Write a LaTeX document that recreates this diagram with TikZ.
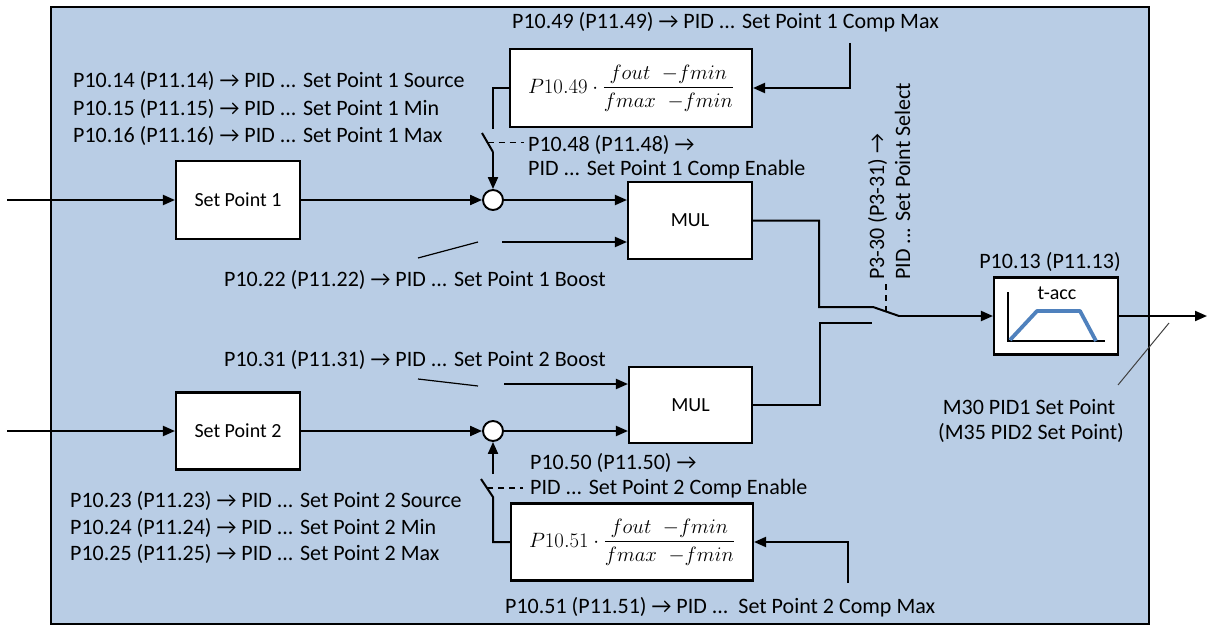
\documentclass[tikz,border=0pt]{standalone}
\usepackage{amsmath}
\usepackage{fontspec}
\setmainfont{Carlito}
\usetikzlibrary{arrows.meta,calc}
\definecolor{bgblue}{HTML}{B9CDE5}
\definecolor{rampblue}{HTML}{4F81BD}
\definecolor{ptr}{HTML}{404040}
\newcommand\ra{→}
\newcommand\lblfont{\fontsize{22}{27}\selectfont}
\newcommand\boxfont{\fontsize{20}{24}\selectfont}
\begin{document}
\begin{tikzpicture}[x=1pt,y=-1pt,
 lbl/.style={anchor=base west,inner sep=0pt,font=\lblfont},
 blk/.style={draw,line width=2.1pt,fill=white,inner sep=0pt,font=\boxfont},
 sum/.style={draw,circle,line width=1.9pt,fill=white,minimum size=20pt,inner sep=0pt},
 wire/.style={line width=2pt},
 arr/.style={wire,-{Triangle[length=12pt,width=10pt]}},
 blade/.style={line width=1.2pt},
 ctl/.style={line width=1.8pt,dash pattern=on 6pt off 5pt},
]
\useasboundingbox (0,0) rectangle (1208,626);
\draw[line width=2.4pt,fill=bgblue] (51,7) rectangle (1149,624);

% blocks
\node[blk,minimum width=124pt,minimum height=78pt] (sp1) at (238,200) {Set Point 1};
\node[blk,minimum width=124pt,minimum height=77pt] (sp2) at (238,431) {Set Point 2};
\node[blk,minimum width=124pt,minimum height=77pt] (mul1) at (690,220.5) {MUL};
\node[blk,minimum width=123pt,minimum height=76pt] (mul2) at (690.5,405) {MUL};
\node[blk,minimum width=242pt,minimum height=78pt] (comp1) at (631,88) {$P10.49\cdot\dfrac{fout\;\;{-}fmin}{fmax\;\;{-}fmin}$};
\node[blk,minimum width=242pt,minimum height=77pt] (comp2) at (632,542) {$P10.51\cdot\dfrac{fout\;\;{-}fmin}{fmax\;\;{-}fmin}$};
\node[blk,minimum width=124pt,minimum height=77pt] (tacc) at (1056,316) {};
\node[font=\boxfont,inner sep=0pt] (tacctxt) at (1057,293) {t-acc};
\draw[line width=1.4pt] (1008,292) -- (1008,341) -- (1105,341);
\draw[rampblue,line width=3.8pt,line join=round] (1010,340) -- (1037,311) -- (1080,311) -- (1096,341);
\node[sum] (c1) at (493,200) {};
\node[sum] (c2) at (493,431) {};

% coordinates
\coordinate (in1) at (7,200);
\coordinate (in2) at (7,431);
\coordinate (b1a) at (418,258);
\coordinate (b1b) at (478,242);
\coordinate (b1c) at (502,242);
\coordinate (b2a) at (418,379);
\coordinate (b2b) at (478,386);
\coordinate (b2c) at (504,384);
\coordinate (s1top) at (493,129);
\coordinate (s1free) at (482,133);
\coordinate (s1hinge) at (493,152);
\coordinate (s2hinge) at (493,497);
\coordinate (s2free) at (481,479);
\coordinate (s2arr) at (493,474);
\coordinate (cm1) at (850,43);
\coordinate (cm2) at (848,583);
\coordinate (selTop) at (873,307);
\coordinate (selPiv) at (899,316);
\coordinate (selBot) at (872,323);
\coordinate (selCorner) at (820,323);
\coordinate (out) at (1207,316);

% connectors
\draw[arr] (in1) -- (sp1.west);
\draw[arr] (in2) -- (sp2.west);
\draw[arr] (sp1.east) -- (c1.west);
\draw[arr] (sp2.east) -- (c2.west);
\draw[arr] (c1.east) -- (c1.east -| mul1.west);
\draw[arr] (c2.east) -- (c2.east -| mul2.west);
\draw[blade] (b1a) -- (b1b);
\draw[arr] (b1c) -- (b1c -| mul1.west);
\draw[blade] (b2a) -- (b2b);
\draw[arr] (b2c) -- (b2c -| mul2.west);
\draw[wire] (comp1.west) -| (s1top);
\draw[wire] (s1free) -- (s1hinge);
\draw[arr] (s1hinge) -- (c1.north);
\draw[ctl] ($(s1free)!0.5!(s1hinge)$) -- ++(36,0);
\draw[wire] (comp2.west) -| (s2hinge) -- (s2free);
\draw[arr] (s2arr) -- (c2.south);
\draw[ctl] ($(s2free)!0.5!(s2hinge)$) -- ++(36,0);
\draw[arr] (cm1) |- (comp1.east);
\draw[arr] (cm2) |- (comp2.east);
\draw[wire] (mul1.east) -- ++(66,0) |- (selTop) -- (selPiv);
\draw[arr] (selPiv) -- (tacc.west);
\draw[wire] (mul2.east) -| (selCorner) -- (selBot);
\draw[ctl] ($(selTop)!0.5!(selPiv)$) -- ++(0,-32);
\draw[arr] (tacc.east) -- (out);
\draw[ptr,line width=1pt] (1118,385) -- (1169,323);

% labels
\node[lbl] (l1) at (512,29) {P10.49 (P11.49) \ra{} PID ... Set Point 1 Comp Max};
\node[lbl] (l2) at (73,88) {P10.14 (P11.14) \ra{} PID ... Set Point 1 Source};
\node[lbl] (l3) at (73,115) {P10.15 (P11.15) \ra{} PID ... Set Point 1 Min};
\node[lbl] (l4) at (73,142) {P10.16 (P11.16) \ra{} PID ... Set Point 1 Max};
\node[lbl] (l5) at (528,151) {P10.48 (P11.48) \ra};
\node[lbl] (l6) at (528,175) {PID ... Set Point 1 Comp Enable};
\node[lbl] (l7) at (224,286) {P10.22 (P11.22) \ra{} PID ... Set Point 1 Boost};
\node[lbl] (l8) at (224,366) {P10.31 (P11.31) \ra{} PID ... Set Point 2 Boost};
\node[lbl] (l9) at (530,469) {P10.50 (P11.50) \ra};
\node[lbl] (l10) at (530,494) {PID ... Set Point 2 Comp Enable};
\node[lbl] (l11) at (70,507) {P10.23 (P11.23) \ra{} PID ... Set Point 2 Source};
\node[lbl] (l12) at (70,534) {P10.24 (P11.24) \ra{} PID ... Set Point 2 Min};
\node[lbl] (l13) at (70,560) {P10.25 (P11.25) \ra{} PID ... Set Point 2 Max};
\node[lbl] (l14) at (505,613) {P10.51 (P11.51) \ra{} PID ...\ \ Set Point 2 Comp Max};
\node[lbl,anchor=base] (l15) at (1050,268) {P10.13 (P11.13)};
\node[lbl,anchor=base] (l16) at (1029,414) {M30 PID1 Set Point};
\node[lbl,anchor=base] (l17) at (1031,439) {(M35 PID2 Set Point)};
\node[lbl,rotate=90] (l18) at (884,280) {P3-30 (P3-31) \ra};
\node[lbl,rotate=90] (l19) at (910,280) {PID ... Set Point Select};
\end{tikzpicture}
\end{document}
